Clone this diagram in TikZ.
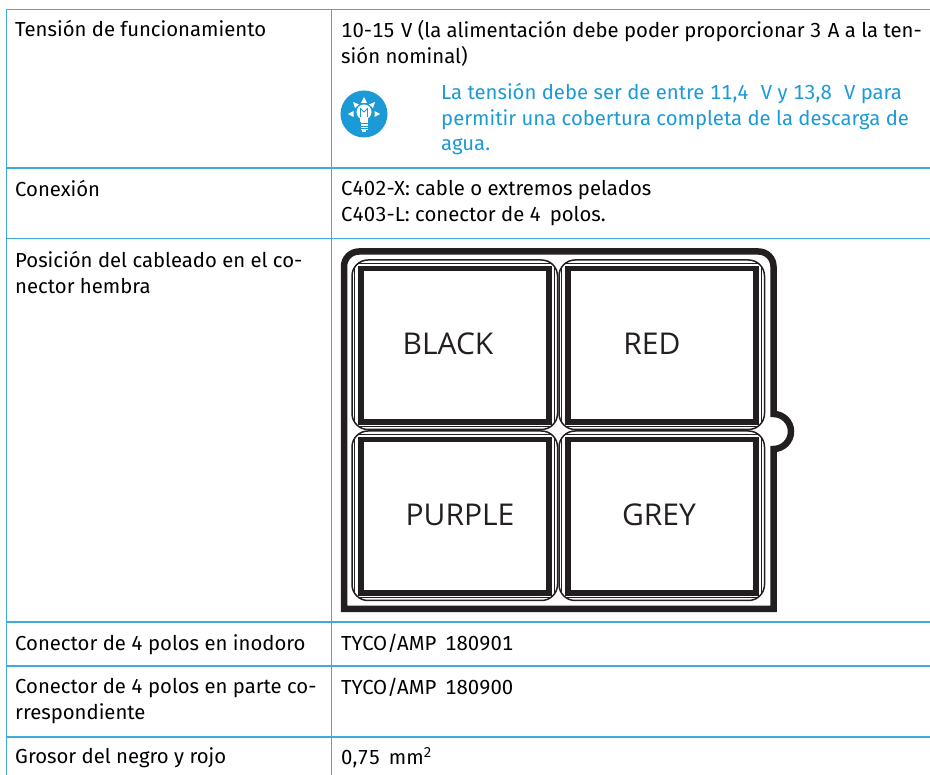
\documentclass[tikz,border=0pt]{standalone}
\usepackage{fontspec}
\setmainfont[Numbers=Monospaced]{Fira Sans}
\newfontfamily\labelfont{Open Sans}
\definecolor{rulec}{HTML}{3FA9E0}
\definecolor{tipc}{HTML}{1C9AD6}
\definecolor{inkc}{HTML}{231F20}
\tikzset{
  cellrule/.style={draw=rulec,line width=1.1pt},
  celltext/.style={anchor=north west,inner sep=0pt,align=left,text=black,font=\fontsize{20.3}{25.7}\selectfont},
  tiptext/.style={celltext,text=tipc},
  wirelabel/.style={inner sep=0pt,text=inkc,font=\labelfont\fontsize{30}{36}\selectfont},
  shellline/.style={draw=inkc,line width=6.5pt,miter limit=10},
  padline/.style={draw=inkc,line width=5.5pt},
  thinline/.style={draw=inkc,line width=1.5pt},
  thinnerline/.style={draw=inkc,line width=1.2pt},
}
\begin{document}
\begin{tikzpicture}[x=1pt,y=-1pt]
\useasboundingbox (0,0) rectangle (930,775);
% table rules
\foreach \yy in {9.5,168,238.5,622,666,737}
  \draw[cellrule] (6.5,\yy) -- (930,\yy);
\draw[cellrule] (6.5,9.5) -- (6.5,775);
\draw[cellrule] (331.5,9.5) -- (331.5,775);
% left column
\node[celltext] (t1) at (15,20) {Tensión de funcionamiento};
\node[celltext] (t2) at (15,180) {Conexión};
\node[celltext] (t3) at (15,251) {Posición del cableado en el co-\\nector hembra};
\node[celltext] (t4) at (15,634) {Conector de 4 polos en inodoro};
\node[celltext] (t5) at (15,678) {Conector de 4 polos en parte co-\\rrespondiente};
\node[celltext] (t6) at (15,747) {Grosor del negro y rojo};
% right column
\node[celltext] (v1) at (341,20) {10-15\hspace{1pt}~V (la alimentación debe poder proporcionar 3\hspace{1pt}~A a la ten-\\sión nominal)};
\node[tiptext] (tip) at (441,83) {La tensión debe ser de entre 11,4\,\,~V y 13,8\,\,~V para\\permitir una cobertura completa de la descarga de\\agua.};
\node[celltext] (v2) at (341,180) {C402-X: cable o extremos pelados\\C403-L: conector de 4\,~polos.};
\node[celltext] (v4) at (341,634) {TYCO/AMP\,~180901};
\node[celltext] (v5) at (341,678) {TYCO/AMP\,~180900};
\node[celltext] (v6) at (341,747) {0,75\,~mm\textsuperscript{2}};
% lightbulb icon
\fill[tipc] (364,114) circle[radius=23.5pt];
\fill[white] (364,112) circle[radius=7.5pt];
\fill[white] (360,118) rectangle (368,122);
\fill[white] (360.5,122) rectangle (367.5,130);
\fill[white] (362,130) rectangle (366,132);
\draw[tipc,line width=0.6pt] (360.5,123.5) -- (367.5,123.5) (360.5,126) -- (367.5,126) (360.5,128.5) -- (367.5,128.5);
\draw[tipc,line width=0.8pt] (360.5,117) -- (360.5,108.5) -- (364,112) -- (367.5,108.5) -- (367.5,117);
\fill[white] (364,97) -- (367,103) -- (361,103) -- cycle;
\fill[white] (353,102) -- (359,104.5) -- (355,108) -- cycle;
\fill[white] (375,102) -- (369,104.5) -- (373,108) -- cycle;
\fill[white] (348,114) -- (353.5,111) -- (353.5,117) -- cycle;
\fill[white] (380,114) -- (374.5,111) -- (374.5,117) -- cycle;
% connector shell
\draw[shellline] (344,609) -- (344,266.5)
  arc[start angle=180,end angle=90,radius=15pt] -- (758.5,251.5)
  arc[start angle=90,end angle=0,radius=15pt] -- (773.5,414)
  arc[start angle=90,end angle=-90,radius=17.5pt] -- (773.5,609) -- cycle;
% cavities
\foreach \dx/\dy in {0/0,207/0,0/171,207/171}{
  \begin{scope}[shift={(\dx,\dy)}]
    \begin{scope}
      \clip[rounded corners=16pt] (352,260) rectangle (557.5,429.5);
      \draw[thinnerline] (354.7,263.5) rectangle (554.8,426.5);
    \end{scope}
    \draw[thinline,rounded corners=16pt] (352,260) rectangle (557.5,429.5);
    \draw[padline] (361,268.5) rectangle (549,422);
  \end{scope}
}
% wire labels
\node[wirelabel] (black) at (448,344) {BLACK};
\node[wirelabel] (red) at (652,344) {RED};
\node[wirelabel] (purple) at (460,515) {PURPLE};
\node[wirelabel] (grey) at (659,515) {GREY};
\end{tikzpicture}
\end{document}
